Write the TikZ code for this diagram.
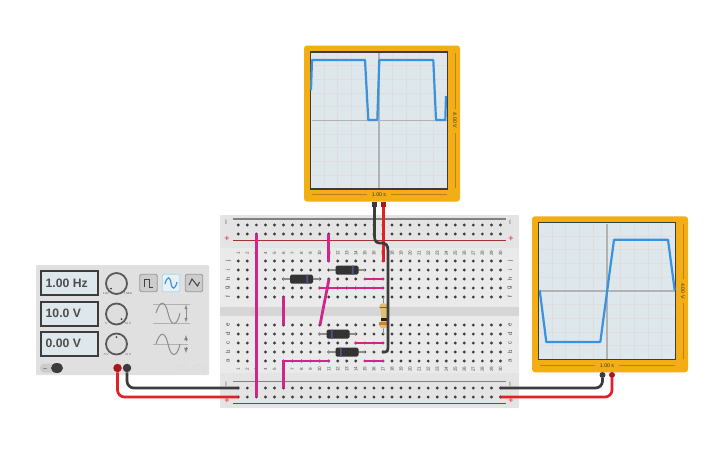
\documentclass[tikz,border=0pt]{standalone}
\usepackage{fontspec}
\setmainfont{Liberation Sans}
\usepackage{tikz}
\usetikzlibrary{calc}
\definecolor{boardgrey}{RGB}{228,228,228}
\definecolor{maingrey}{RGB}{234,234,234}
\definecolor{gapgrey}{RGB}{214,214,214}
\definecolor{holegrey}{RGB}{60,60,60}
\definecolor{screenblue}{RGB}{222,231,235}
\definecolor{scopeorange}{RGB}{243,174,22}
\definecolor{tracecol}{RGB}{58,146,222}
\definecolor{wirepink}{RGB}{208,38,140}
\definecolor{wirered}{RGB}{226,32,38}
\definecolor{wireblack}{RGB}{60,60,60}
\definecolor{panelgrey}{RGB}{224,224,224}
\definecolor{bodytan}{RGB}{228,190,112}
\tikzstyle{wire} = [line width=2.8pt,wirepink]
\tikzstyle{probe} = [line width=2.7pt,rounded corners=7pt]
\tikzstyle{display} = [draw=wireblack,line width=2.4pt,fill=screenblue,minimum width=57pt,minimum height=24pt,inner sep=0pt]
\tikzstyle{disptext} = [font=\fontsize{12.2}{14}\selectfont\bfseries,text=black!70,anchor=west,inner sep=0pt]
\tikzstyle{knob} = [circle,draw=black!65,line width=1.8pt,fill=black!13,minimum size=21pt,inner sep=0pt]
\tikzstyle{wavebtn} = [draw=black!40,line width=.9pt,fill=black!20,rounded corners=1.5pt,minimum size=17.5pt,inner sep=0pt]
\tikzstyle{terminal} = [circle,minimum size=8.5pt,inner sep=0pt]
\tikzstyle{tiny} = [font=\fontsize{4.6}{5}\selectfont,text=black!70,inner sep=0pt]
\tikzstyle{micro} = [font=\fontsize{2.8}{3}\selectfont,text=black!70,inner sep=0pt]
\tikzstyle{rowlabel} = [font=\fontsize{6}{6}\selectfont,text=black!70,inner sep=0pt,rotate=90]
\tikzstyle{railminus} = [text=black!70,inner sep=0pt,font=\fontsize{8}{8}\selectfont]
\tikzstyle{railplus} = [text=wirered,inner sep=0pt,font=\fontsize{9}{9}\selectfont]
\tikzstyle{scopebody} = [fill=scopeorange,rounded corners=3pt,minimum size=156pt,inner sep=0pt]
\tikzstyle{screen} = [draw=wireblack,line width=1.8pt,fill=screenblue,minimum size=137pt,inner sep=0pt]
\tikzstyle{trace} = [line width=2.2pt,tracecol,line join=round]
\tikzstyle{lead} = [line width=1.5pt,black!45]
\tikzstyle{diodebody} = [fill=black!80,rounded corners=1.5pt,minimum width=23pt,minimum height=9pt,inner sep=0pt]
\tikzstyle{icon} = [black!45,line width=1pt]
\begin{document}
\begin{tikzpicture}[x=1pt,y=-1pt]
\useasboundingbox (0,0) rectangle (725,453);
% function generator
\fill[panelgrey,rounded corners=1pt] (36,265) rectangle (209,375);
\draw[black!12,line width=.7pt] (36,360) -- (209,360);
\node (disp1) at (69.5,283) [display] {};
\node (disp2) at (69.5,314) [display] {};
\node (disp3) at (69.5,344) [display] {};
\node (freqtxt) at (45.5,283) [disptext] {1.00 Hz};
\node (amptxt) at (45.5,313.5) [disptext] {10.0 V};
\node (offtxt) at (45.5,343.5) [disptext] {0.00 V};
\node (knob1) at (116.5,283.5) [knob] {};
\node (knob2) at (116.5,314) [knob] {};
\node (knob3) at (116.5,344) [knob] {};
\fill[black!75] (111,288.5) circle (1pt) (121.5,319) circle (1pt) (116.5,337) circle (1pt);
\node (k1a) at (106,294) [micro] {1 Hz};
\node (k1b) at (128,294) [micro] {1 MHz};
\node (k2a) at (106,324) [micro] {0};
\node (k2b) at (128,324) [micro] {10 V};
\node (k3a) at (106,354.5) [micro] {-5 V};
\node (k3b) at (128,354.5) [micro] {+5 V};
\node (btn1) at (148.5,283) [wavebtn] {};
\node (btn2) at (171,283) [wavebtn,fill=screenblue!60!white,draw=cyan!40] {};
\node (btn3) at (194,283) [wavebtn] {};
\draw[black!75,line width=1pt] (144,287) -- (144,279) -- (149,279) -- (149,287) -- (153,287);
\draw[tracecol,line width=1.2pt] (165,284) .. controls (167,276) and (170,276) .. (171,283) .. controls (172,290) and (175,290) .. (177,282);
\draw[black!75,line width=1pt] (189,285) -- (192,279) -- (197.5,286) -- (199.5,282);
% amplitude and offset icons
\draw[black!30,line width=.7pt] (153,304) -- (190,304) (153,323) -- (190,323) (153,344) -- (188,344);
\draw[icon] (156,313) .. controls (160,300) and (165,300) .. (168,313) .. controls (171,327) and (177,327) .. (180,313);
\draw[icon] (156,344) .. controls (160,331) and (165,331) .. (168,344) .. controls (171,358) and (177,358) .. (180,344);
\draw[black!45,line width=.6pt,<->,>=latex] (186,304.5) -- (186,322.5);
\draw[black!50,line width=.8pt,->,>=latex] (186,341) -- (186,335);
\draw[black!50,line width=.8pt,->,>=latex] (186,347) -- (186,353);
\fill[black!20,rounded corners=4pt] (40,363.5) rectangle (62,372.5);
\draw[black!45,line width=.7pt] (43,368) -- (47,368);
\fill[wireblack] (57,368) ellipse (6pt and 5pt);
\node (genred) at (117.5,368) [terminal,fill=wirered!75!black] {};
\node (genblack) at (127,368) [terminal,fill=wireblack] {};
\draw[black!14,line width=.8pt] (193,369) .. controls (197,362) and (199,364) .. (201,368) .. controls (203,373) and (205,370) .. (206,367);
\node (logo) at (181,367) [micro,text=black!14,font=\fontsize{3}{3.5}\selectfont\bfseries,align=center] {autodesk\\circuits};
% breadboard
\fill[boardgrey,rounded corners=1pt] (220,215) rectangle (519,408);
\fill[maingrey] (220,248) rectangle (519,373);
\fill[gapgrey] (220,307) rectangle (519,316);
\draw[black!50,line width=1.2pt] (233,219) -- (506,219);
\draw[red!55!black!80,line width=.9pt] (233,240.7) -- (506,240.7);
\draw[black!50,line width=1.2pt] (233,381.7) -- (506,381.7);
\draw[red!55!black!80,line width=.9pt] (233,403.7) -- (506,403.7);
\foreach \i in {1,...,30}{
  \pgfmathsetmacro{\colx}{238.3+(\i-1)*9.04}
  \foreach \rowy in {225,234,261,270,279,288,297,325,334,343,352,361,388,397}
    \fill[holegrey] (\colx,\rowy) circle (1.6pt);
  \node (numt\i) at (\colx,253) [tiny,rotate=90] {\i};
  \node (numb\i) at (\colx,369) [tiny,rotate=90] {\i};
}
\foreach \rowy/\rowname in {261/j,270/i,279/h,288/g,297/f,325/e,334/d,343/c,352/b,361/a}{
  \node (rl\rowname) at (228,\rowy) [rowlabel] {\rowname};
  \node (rr\rowname) at (510,\rowy) [rowlabel] {\rowname};
}
\node (m1) at (227,222) [railminus,rotate=90] {--};
\node (m2) at (511,222) [railminus,rotate=90] {--};
\node (m3) at (227,384) [railminus,rotate=90] {--};
\node (m4) at (511,384) [railminus,rotate=90] {--};
\node (p1) at (227,238.5) [railplus] {+};
\node (p2) at (511,238.5) [railplus] {+};
\node (p3) at (227,400.5) [railplus] {+};
\node (p4) at (511,400.5) [railplus] {+};
% diodes
\draw[lead] (283,279) -- (320,279) (328.5,270) -- (365,270) (319,334) -- (356,334) (328,352) -- (365,352);
\node (d1) at (301.5,279) [diodebody] {};
\node (d2) at (347,270) [diodebody] {};
\node (d3) at (338,334) [diodebody] {};
\node (d4) at (347,352) [diodebody] {};
\fill[black!40!blue!35!gray] (306.3,274.5) rectangle (308,283.5) (351.8,265.5) rectangle (353.5,274.5) (331,329.5) rectangle (332.7,338.5) (340,347.5) rectangle (341.7,356.5);
% jumpers
\draw[wire] (256.3,234) -- (256.3,397);
\draw[wire] (328.5,234) -- (328.5,262);
\draw[wire] (283.5,297) -- (283.5,325);
\draw[wire] (283.5,388) -- (283.5,361) -- (330,361);
\draw[wire] (329,279) -- (320,325);
\draw[wire] (319,288) -- (384,288);
\draw[wire] (364,279) -- (384,279);
\draw[wire] (355,343) -- (384,343);
\draw[wire] (364,361) -- (384,361);
% resistor
\draw[lead] (383.5,297) -- (383.5,334);
\fill[bodytan] (383.5,307) ellipse (4.4pt and 4pt) (383.5,325) ellipse (4.4pt and 3.5pt);
\fill[bodytan] (380.5,307) rectangle (386.5,325);
\fill[olive!70!black] (380,306.5) rectangle (387,307.7);
\fill[black!88] (380.5,317.5) rectangle (386.5,320.5);
\fill[brown!75!orange] (379.3,322) rectangle (387.7,325);
% scopes
\node (scope1) at (382,123.5) [scopebody] {};
\node (screen1) at (379,120.5) [screen] {};
\node (scope2) at (610,294.3) [scopebody] {};
\node (screen2) at (607,291) [screen] {};
\foreach \sc/\cx/\cy in {1/379/120.5,2/607/291}{
  \foreach \k in {-4,...,4}{
    \draw[black!13,line width=1pt] (\cx+\k*13.7,\cy-67.5) -- (\cx+\k*13.7,\cy+67.5);
    \draw[black!13,line width=1pt] (\cx-67.5,\cy+\k*13.7) -- (\cx+67.5,\cy+\k*13.7);
  }
  \draw[black!30,line width=1.1pt] (\cx,\cy-67.5) -- (\cx,\cy+67.5) (\cx-67.5,\cy) -- (\cx+67.5,\cy);
  \draw[scopeorange!75!black,line width=.5pt] (\cx-67.5,\cy+74) -- (\cx-12,\cy+74) (\cx+12,\cy+74) -- (\cx+67.5,\cy+74);
  \draw[scopeorange!75!black,line width=.5pt] (\cx+76,\cy-67.5) -- (\cx+76,\cy-12) (\cx+76,\cy+12) -- (\cx+76,\cy+67.5);
  \node (tlabel\sc) at (\cx,\cy+74.5) [tiny,text=black!80,font=\fontsize{5.2}{6}\selectfont] {1.00 s};
  \node (vlabel\sc) at (\cx+76,\cy) [tiny,text=black!80,rotate=-90,font=\fontsize{5.2}{6}\selectfont] {4.00 V};
}
\draw[trace] (311,90) -- (312,60) -- (365,60) -- (368.3,120) -- (377.3,120) -- (379.3,60) -- (433.3,60) -- (436,120) -- (445.3,120) -- (446,96);
\draw[trace] (539.7,290.3) -- (546.3,342) -- (600.3,342) -- (614,239.7) -- (668,239.7) -- (674.7,290.3);
% probes
\coordinate (topblack) at (374.5,205);
\coordinate (topred) at (383.5,205);
\coordinate (blackend) at (382,352);
\coordinate (redend) at (383.5,262);
\draw[line width=2.7pt,wirered] (topred) -- (redend);
\draw[line width=2.7pt,wireblack] (topblack) -- (374.5,236) .. controls (374.5,243) and (378,243) .. (381,243) .. controls (386,243) and (388,245) .. (388,251) -- (388,348) .. controls (388,351) and (387,352) .. (385,352) -- (blackend);
\fill[wireblack] (371.8,201.5) rectangle (377.2,207);
\fill[wirered!75!black] (380.8,201.5) rectangle (386.2,207);
\node (sc2black) at (602.5,375) [terminal,minimum size=6pt,fill=wireblack] {};
\node (sc2red) at (612,375) [terminal,minimum size=6pt,fill=wirered!75!black] {};
\coordinate (boardl1) at (238.3,388);
\coordinate (boardl2) at (238.3,397);
\coordinate (boardr1) at (500.5,388);
\coordinate (boardr2) at (500.5,397);
\draw[probe,wireblack] (genblack) -- (127,388) -- (boardl1);
\draw[probe,wirered] (genred) -- (117.5,397) -- (boardl2);
\draw[probe,wireblack] (sc2black) -- (602.5,388) -- (boardr1);
\draw[probe,wirered] (sc2red) -- (612,397) -- (boardr2);
\end{tikzpicture}
\end{document}
